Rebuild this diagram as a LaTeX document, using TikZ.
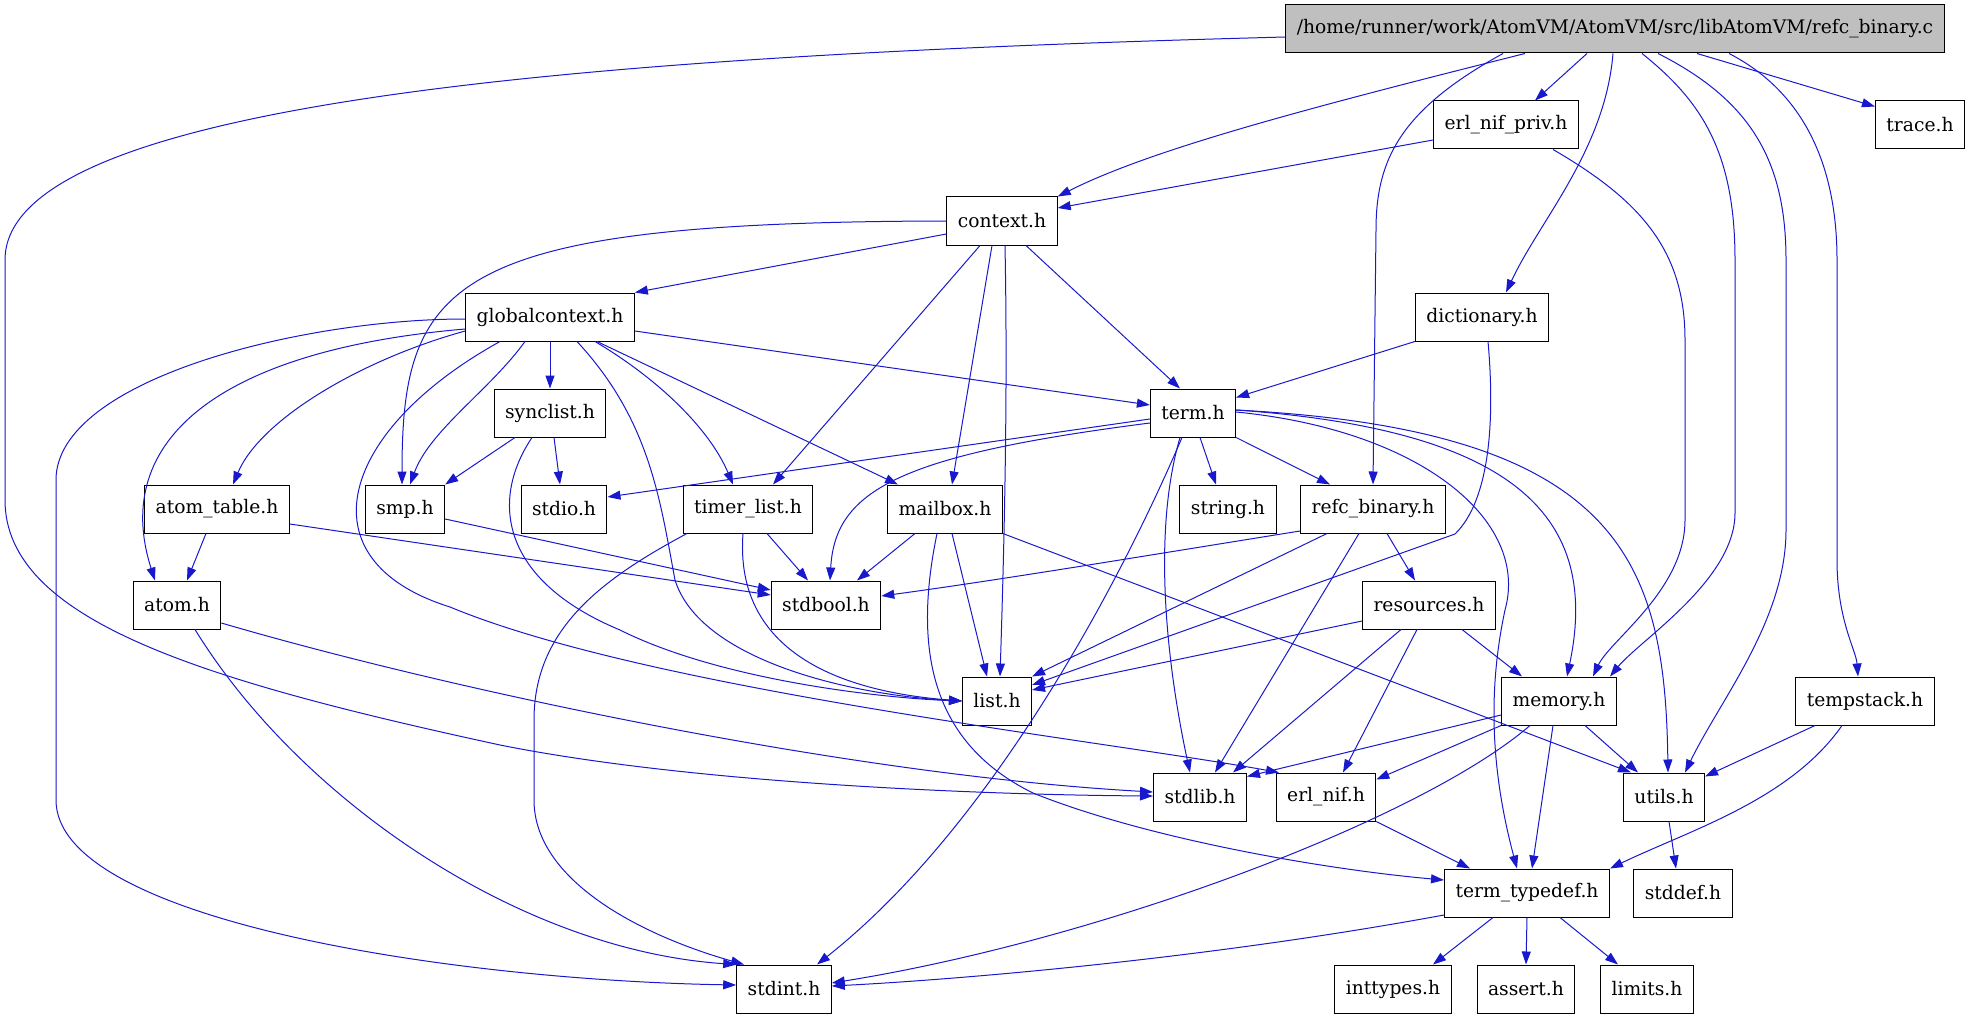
\documentclass[tikz,border=0pt]{standalone}
\usepackage{fontspec}
\setmainfont{DejaVu Serif}
\usetikzlibrary{arrows.meta}
\definecolor{edgeblue}{RGB}{24,24,204}
\definecolor{rootgray}{RGB}{191,191,191}
\tikzset{
  file/.style={draw=black, line width=1pt, fill=white, minimum height=48pt,
    inner xsep=11pt, inner ysep=0pt, font=\fontsize{18.7}{22}\selectfont},
  root/.style={file, fill=rootgray},
  dep/.style={draw=edgeblue, line width=1pt, -{Triangle[length=13pt,width=9pt]}},
}
\begin{document}
\begin{tikzpicture}[x=1pt, y=-1pt]
            \useasboundingbox (0,0) rectangle (1970,1019);
            % Files
            \node[root] (main) at (1615,29) {/home/runner/work/AtomVM/AtomVM/src/libAtomVM/refc\_binary.c};
            \node[file] (enp) at (1506,125) {erl\_nif\_priv.h};
            \node[file] (trace) at (1920,125) {trace.h};
            \node[file] (context) at (1002,221) {context.h};
            \node[file] (gctx) at (550,317) {globalcontext.h};
            \node[file] (dict) at (1482,317) {dictionary.h};
            \node[file] (sync) at (550,413) {synclist.h};
            \node[file] (term) at (1193,413) {term.h};
            \node[file] (atab) at (217,509) {atom\_table.h};
            \node[file] (smp) at (405,509) {smp.h};
            \node[file] (stdio) at (564,509) {stdio.h};
            \node[file] (tlist) at (748,509) {timer\_list.h};
            \node[file] (mbox) at (945,509) {mailbox.h};
            \node[file] (string) at (1228,509) {string.h};
            \node[file] (rbin) at (1373,509) {refc\_binary.h};
            \node[file] (atom) at (177,605) {atom.h};
            \node[file] (stdbool) at (826,605) {stdbool.h};
            \node[file] (res) at (1429,605) {resources.h};
            \node[file] (list) at (997,701) {list.h};
            \node[file] (mem) at (1559,701) {memory.h};
            \node[file] (tstack) at (1865,701) {tempstack.h};
            \node[file] (stdlib) at (1200,797) {stdlib.h};
            \node[file] (enif) at (1326,797) {erl\_nif.h};
            \node[file] (utils) at (1664,797) {utils.h};
            \node[file] (ttd) at (1527,893) {term\_typedef.h};
            \node[file] (stddef) at (1683,893) {stddef.h};
            \node[file] (stdint) at (784,989) {stdint.h};
            \node[file] (inttypes) at (1393,989) {inttypes.h};
            \node[file] (assert) at (1526,989) {assert.h};
            \node[file] (limits) at (1647,989) {limits.h};
            % refc_binary.c
            \draw[dep] ([xshift=-90pt]main.south) .. controls (1300,110) and (1150,150) .. (context.north east);
            \draw[dep] ([xshift=-28pt]main.south) -- ([xshift=29pt]enp.north);
            \draw[dep] ([xshift=-2pt]main.south) .. controls (1605,150) and (1540,220) .. ([xshift=24pt]dict.north);
            \draw[dep] ([xshift=-112pt]main.south) .. controls (1400,110) and (1376,160) .. (1376,230) -- (rbin.north);
            \draw[dep] ([xshift=27pt]main.south) .. controls (1700,100) and (1735,150) .. (1735,260) -- (1735,513) .. controls (1735,580) and (1640,640) .. ([xshift=51pt]mem.north);
            \draw[dep] ([xshift=43pt]main.south) .. controls (1750,100) and (1786,160) .. (1786,260) -- (1786,530) .. controls (1786,620) and (1720,700) .. ([xshift=21pt]utils.north);
            \draw[dep] ([xshift=82pt]main.south) -- ([yshift=-6pt]trace.north west);
            \draw[dep] ([xshift=114pt]main.south) .. controls (1800,90) and (1837,160) .. (1837,260) -- (1837,560) .. controls (1837,620) and (1856,650) .. ([xshift=-7pt]tstack.north);
            \draw[dep] ([yshift=-8pt]main.west) .. controls (600,55) and (5,100) .. (5,260) -- (5,500) .. controls (5,620) and (200,680) .. (500,745) .. controls (700,785) and (1000,795) .. ([yshift=1pt]stdlib.west);
            % erl_nif_priv.h
            \draw[dep] ([yshift=-15pt]enp.west) -- ([yshift=13pt]context.east);
            \draw[dep] ([xshift=47pt]enp.south) .. controls (1640,200) and (1685,250) .. (1685,340) -- (1685,520) .. controls (1685,590) and (1610,640) .. ([xshift=34pt]mem.north);
            % context.h
            \draw[dep] ([yshift=-13pt]context.west) -- (gctx.north east);
            \draw[dep] (context.west) .. controls (450,222) and (402,280) .. ([xshift=-3pt]smp.north);
            \draw[dep] ([xshift=-22pt]context.south) -- ([xshift=25pt]tlist.north);
            \draw[dep] ([xshift=-10pt]context.south) -- ([xshift=7pt]mbox.north);
            \draw[dep] ([xshift=3pt]context.south) .. controls (1008,400) and (1004,550) .. ([xshift=3pt]list.north);
            \draw[dep] ([xshift=24pt]context.south) -- ([xshift=-13pt]term.north);
            % globalcontext.h
            \draw[dep] ([yshift=-14pt]gctx.east) -- ([yshift=8pt]term.west);
            \draw[dep] (gctx) -- (sync);
            \draw[dep] ([xshift=-25pt]gctx.south) .. controls (490,390) and (430,430) .. ([xshift=5pt]smp.north);
            \draw[dep] ([xshift=-50pt]gctx.south) .. controls (340,430) and (300,560) .. (450,607) .. controls (650,690) and (1100,740) .. ([xshift=-47pt]enif.north);
            \draw[dep] ([yshift=-14pt]gctx.west) .. controls (360,360) and (260,420) .. ([xshift=16pt]atab.north);
            \draw[dep] ([yshift=-12pt]gctx.west) .. controls (220,350) and (110,440) .. ([xshift=-22pt]atom.north);
            \draw[dep] ([yshift=-2pt]gctx.west) .. controls (300,319) and (56,380) .. (56,480) -- (56,800) .. controls (56,920) and (450,980) .. ([yshift=4pt]stdint.west);
            \draw[dep] ([xshift=27pt]gctx.south) .. controls (650,420) and (660,500) .. (675,580) .. controls (700,660) and (850,695) .. (list.west);
            \draw[dep] ([xshift=45pt]gctx.south) .. controls (660,380) and (710,430) .. ([xshift=-15pt]tlist.north);
            \draw[dep] ([xshift=47pt]gctx.south) -- ([xshift=-47pt]mbox.north);
            % dictionary.h
            \draw[dep] (dict.south west) -- ([yshift=-9pt]term.north east);
            \draw[dep] ([xshift=6pt]dict.south) .. controls (1495,420) and (1490,500) .. (1455,534) -- ([yshift=16pt]list.east);
            % term.h
            \draw[dep] ([yshift=-6pt]term.west) -- ([yshift=12pt]stdio.east);
            \draw[dep] ([yshift=-10pt]term.west) .. controls (900,455) and (835,490) .. ([xshift=4pt]stdbool.north);
            \draw[dep] ([xshift=7pt]term.south) -- ([xshift=-12pt]string.north);
            \draw[dep] (term.south east) -- ([xshift=-43pt]rbin.north);
            \draw[dep] ([xshift=-11pt]term.south) .. controls (1130,560) and (1000,820) .. ([xshift=33pt]stdint.north);
            \draw[dep] ([xshift=-13pt]term.south) .. controls (1150,540) and (1170,680) .. ([xshift=-10pt]stdlib.north);
            \draw[dep] ([yshift=3pt]term.east) .. controls (1520,430) and (1600,520) .. ([xshift=8pt]mem.north);
            \draw[dep] ([yshift=3pt]term.east) .. controls (1620,430) and (1665,560) .. ([xshift=4pt]utils.north);
            \draw[dep] ([yshift=1pt]term.east) .. controls (1420,430) and (1530,520) .. (1505,610) .. controls (1490,680) and (1488,760) .. ([xshift=-10pt]ttd.north);
            % synclist.h
            \draw[dep] ([xshift=-35pt]sync.south) -- (smp.north east);
            \draw[dep] ([xshift=4pt]sync.south) -- ([xshift=-4pt]stdio.north);
            \draw[dep] ([xshift=-18pt]sync.south) .. controls (490,500) and (500,580) .. (620,630) .. controls (720,680) and (880,698) .. (list.west);
            % atom_table.h, smp.h
            \draw[dep] ([xshift=-11pt]atab.south) -- ([xshift=10pt]atom.north);
            \draw[dep] ([yshift=-15pt]atab.east) -- ([yshift=10pt]stdbool.west);
            \draw[dep] ([yshift=-10pt]smp.east) -- ([yshift=15pt]stdbool.west);
            % timer_list.h
            \draw[dep] ([xshift=19pt]tlist.south) -- ([xshift=-18pt]stdbool.north);
            \draw[dep] ([xshift=-61pt]tlist.south) .. controls (600,580) and (534,630) .. (534,720) -- (534,800) .. controls (534,880) and (640,935) .. ([xshift=-40pt]stdint.north);
            \draw[dep] ([xshift=-5pt]tlist.south) .. controls (735,640) and (820,690) .. (list.west);
            % mailbox.h
            \draw[dep] ([xshift=-30pt]mbox.south) -- ([xshift=31pt]stdbool.north);
            \draw[dep] ([xshift=7pt]mbox.south) -- ([xshift=-10pt]list.north);
            \draw[dep] ([xshift=-8pt]mbox.south) .. controls (915,640) and (925,740) .. (1033,793) .. controls (1150,840) and (1330,870) .. ([yshift=13pt]ttd.west);
            \draw[dep] (mbox.south east) -- ([xshift=-33pt]utils.north);
            % refc_binary.h
            \draw[dep] ([yshift=-22pt]rbin.west) .. controls (1150,555) and (1000,580) .. ([yshift=9pt]stdbool.east);
            \draw[dep] ([xshift=-46pt]rbin.south) -- (list.north east);
            \draw[dep] ([xshift=-14pt]rbin.south) -- ([xshift=15pt]stdlib.north);
            \draw[dep] ([xshift=14pt]rbin.south) -- ([xshift=-14pt]res.north);
            % resources.h
            \draw[dep] ([yshift=-16pt]res.west) -- ([yshift=11pt]list.east);
            \draw[dep] ([xshift=-28pt]res.south) -- ([xshift=33pt]stdlib.north);
            \draw[dep] ([xshift=-12pt]res.south) -- ([xshift=17pt]enif.north);
            \draw[dep] ([xshift=33pt]res.south) -- ([xshift=-37pt]mem.north);
            % atom.h
            \draw[dep] ([xshift=18pt]atom.south) .. controls (300,800) and (520,950) .. (stdint.north west);
            \draw[dep] ([yshift=-18pt]atom.east) .. controls (450,690) and (850,775) .. ([yshift=5pt]stdlib.west);
            % memory.h
            \draw[dep] ([yshift=-14pt]mem.west) -- ([yshift=-4pt]stdlib.north east);
            \draw[dep] (mem.south west) -- ([yshift=-7pt]enif.north east);
            \draw[dep] ([xshift=-29pt]mem.south) .. controls (1420,820) and (1100,940) .. ([yshift=6pt]stdint.east);
            \draw[dep] ([xshift=-6pt]mem.south) -- ([xshift=5pt]ttd.north);
            \draw[dep] ([xshift=26pt]mem.south) -- ([xshift=-26pt]utils.north);
            % tempstack.h
            \draw[dep] ([xshift=-50pt]tstack.south) -- ([yshift=-4pt]utils.north east);
            \draw[dep] ([xshift=-23pt]tstack.south) .. controls (1790,800) and (1690,830) .. (ttd.north east);
            % erl_nif.h, utils.h
            \draw[dep] (enif.south east) -- ([xshift=-57pt]ttd.north);
            \draw[dep] ([xshift=5pt]utils.south) -- ([xshift=-7pt]stddef.north);
            % term_typedef.h
            \draw[dep] ([yshift=-22pt]ttd.west) .. controls (1200,960) and (950,980) .. ([yshift=3pt]stdint.east);
            \draw[dep] ([xshift=-34pt]ttd.south) -- ([xshift=40pt]inttypes.north);
            \draw[dep] (ttd.south) -- (assert.north);
            \draw[dep] ([xshift=33pt]ttd.south) -- ([xshift=-29pt]limits.north);
\end{tikzpicture}
\end{document}
